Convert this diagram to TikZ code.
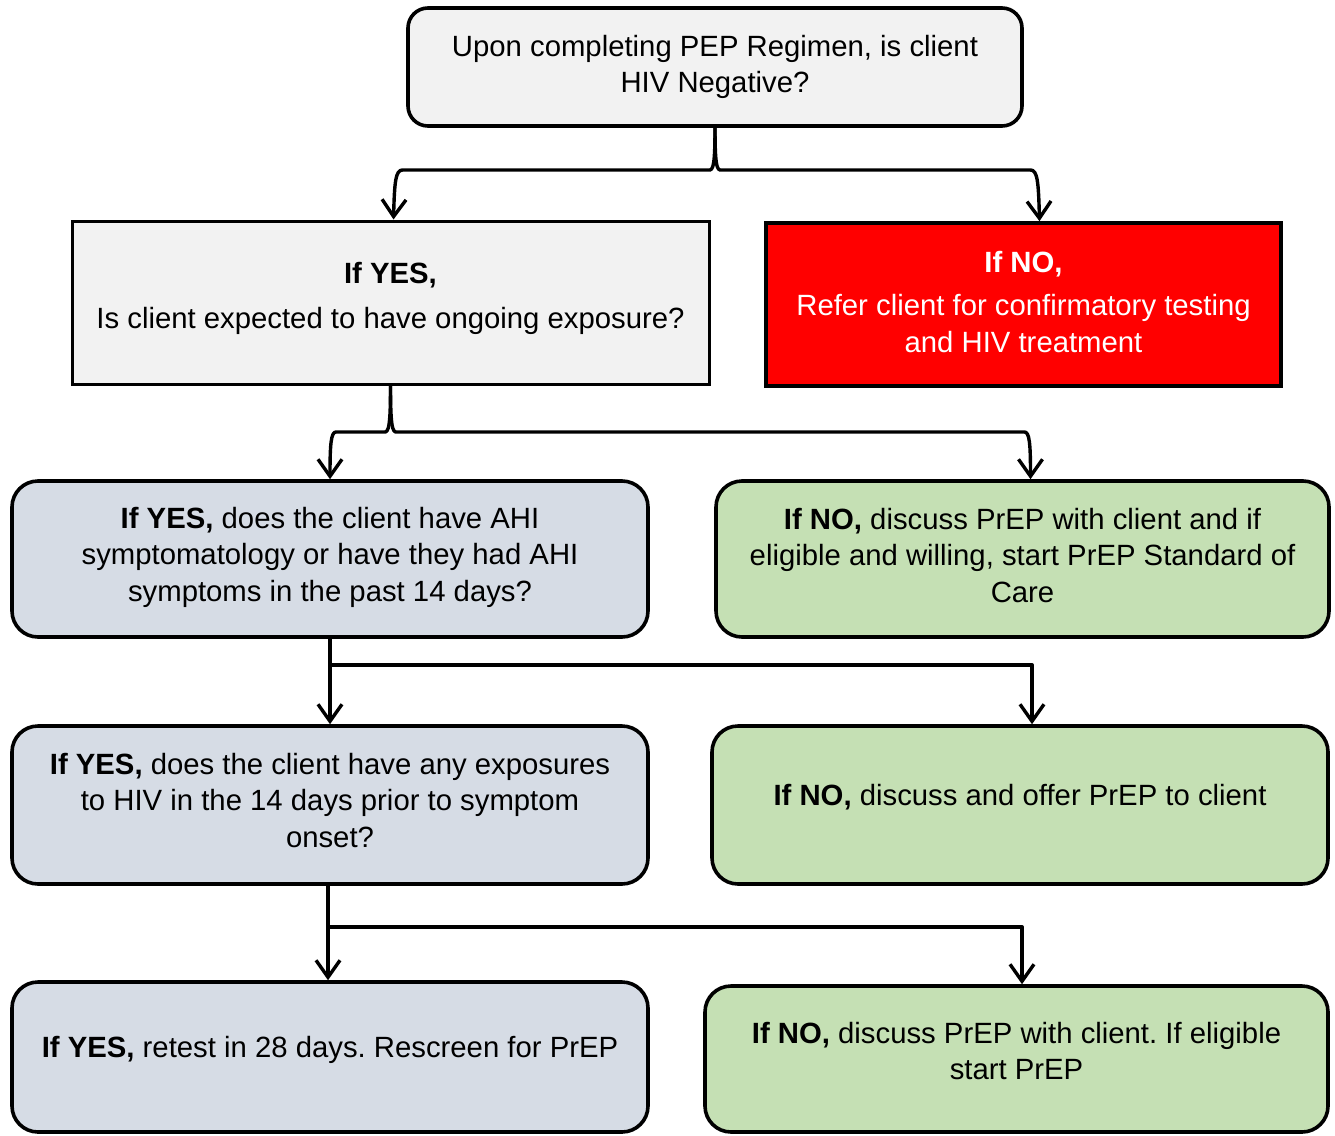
\documentclass[tikz,border=0pt]{standalone}
\usepackage{fontspec}
\setmainfont{Liberation Sans}
\usetikzlibrary{arrows.meta}
\frenchspacing

\definecolor{boxgray}{HTML}{F2F2F2}
\definecolor{boxblue}{HTML}{D6DCE5}
\definecolor{boxgreen}{HTML}{C5E0B4}
\definecolor{boxred}{HTML}{FF0000}

% invisible strut that deepens the last line, lifting the text block
\newcommand\lowpad[1]{\rule[-#1]{0pt}{#1}}

\tikzset{
  basebox/.style={draw=black, line width=3.6pt, align=center, inner sep=0pt,
    font=\fontsize{29.3}{36.5}\selectfont},
  graybox/.style={basebox, fill=boxgray},
  roundgray/.style={graybox, rounded corners=20pt},
  redbox/.style={basebox, fill=boxred, text=white},
  bluebox/.style={basebox, fill=boxblue, rounded corners=26pt},
  greenbox/.style={basebox, fill=boxgreen, rounded corners=26pt},
  conn/.style={line width=3.4pt, line join=round,
    -{Straight Barb[length=17pt,width=24pt,line width=3.4pt]}},
}

\begin{document}
\begin{tikzpicture}[x=1pt,y=-1pt]
\useasboundingbox (0,0) rectangle (1335,1135);

% question and first answers
\node[roundgray, minimum width=614, minimum height=118] (top) at (715,67)
  {Upon completing PEP Regimen, is client\\HIV Negative?\lowpad{4pt}};
\node[graybox, line width=3pt, minimum width=637, minimum height=163] (yes1) at (390.5,302.5)
  {\textbf{If YES,}\\[8pt]Is client expected to have ongoing exposure?\lowpad{14pt}};
\node[redbox, minimum width=515, minimum height=163] (no1) at (1023.5,304.5)
  {\textbf{If NO,}\\[7pt]Refer client for confirmatory testing\\and HIV treatment\lowpad{6pt}};

% second level
\node[bluebox, minimum width=636, minimum height=156] (yes2) at (330,559)
  {\textbf{If YES,} does the client have AHI\\symptomatology or have they had AHI\\symptoms in the past 14 days?\lowpad{10pt}};
\node[greenbox, minimum width=613, minimum height=156] (no2) at (1022.5,559)
  {\textbf{If NO,} discuss PrEP with client and if\\eligible and willing, start PrEP Standard of\\Care\lowpad{8pt}};

% third level
\node[bluebox, minimum width=636, minimum height=158] (yes3) at (330,805)
  {\textbf{If YES,} does the client have any exposures\\to HIV in the 14 days prior to symptom\\onset?\lowpad{10pt}};
\node[greenbox, minimum width=616, minimum height=158] (no3) at (1020,805)
  {\textbf{If NO,} discuss and offer PrEP to client\lowpad{20pt}};

% fourth level
\node[bluebox, minimum width=636, minimum height=150] (yes4) at (330,1057)
  {\textbf{If YES,} retest in 28 days. Rescreen for PrEP\lowpad{20pt}};
\node[greenbox, minimum width=623, minimum height=146] (no4) at (1016.5,1059)
  {\textbf{If NO,} discuss PrEP with client. If eligible\\start PrEP\lowpad{16pt}};

% brace-shaped splits
\coordinate (s1) at (0,170);
\draw[conn] (top.south) .. controls ([yshift=-5]top.south |- s1) and ([xshift=-3]top.south |- s1) .. ([xshift=-9]top.south |- s1)
  -- ([xshift=12]yes1.north |- s1) .. controls ([xshift=5]yes1.north |- s1) and ([xshift=4,yshift=-12]yes1.north |- s1) .. ([xshift=3]yes1.north);
\draw[conn] (top.south) .. controls ([yshift=-5]top.south |- s1) and ([xshift=3]top.south |- s1) .. ([xshift=9]top.south |- s1)
  -- ([xshift=7]no1.north |- s1) .. controls ([xshift=14]no1.north |- s1) and ([xshift=15,yshift=-12]no1.north |- s1) .. ([xshift=16]no1.north);

\coordinate (s2) at (0,432);
\draw[conn] (yes1.south) .. controls ([yshift=-5]yes1.south |- s2) and ([xshift=-3]yes1.south |- s2) .. ([xshift=-9]yes1.south |- s2)
  -- ([xshift=6]yes2.north |- s2) .. controls ([xshift=1]yes2.north |- s2) and ([yshift=-12]yes2.north |- s2) .. (yes2.north);
\draw[conn] (yes1.south) .. controls ([yshift=-5]yes1.south |- s2) and ([xshift=3]yes1.south |- s2) .. ([xshift=9]yes1.south |- s2)
  -- ([xshift=2]no2.north |- s2) .. controls ([xshift=7]no2.north |- s2) and ([xshift=8,yshift=-12]no2.north |- s2) .. ([xshift=8]no2.north);

% straight splits
\coordinate (s3) at (0,665);
\draw[conn] (yes2.south) -- (yes3.north);
\draw[conn] (yes2.south |- s3) -| ([xshift=12]no3.north);

\coordinate (s4) at (0,927);
\draw[conn] ([xshift=-2]yes3.south) -- ([xshift=-2]yes4.north);
\draw[conn] ([xshift=-2]yes3.south |- s4) -| ([xshift=5.5]no4.north);
\end{tikzpicture}
\end{document}
